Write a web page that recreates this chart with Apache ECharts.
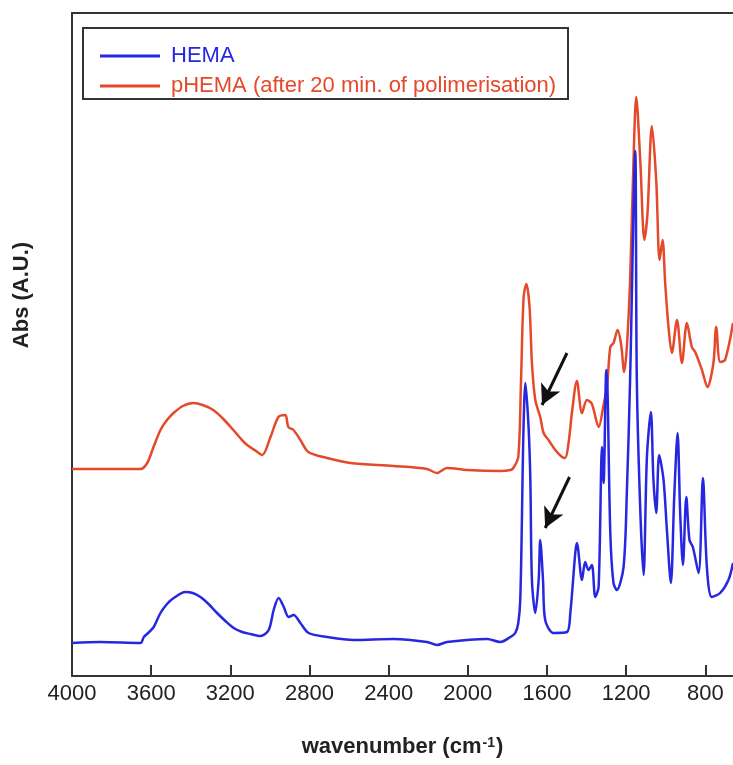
<!DOCTYPE html>
<html>
<head>
<meta charset="utf-8">
<title>HEMA / pHEMA IR spectra</title>
<script src="https://cdn.jsdelivr.net/npm/echarts@6/dist/echarts.min.js"></script>
<style>
  html, body { margin: 0; padding: 0; background: #fff; }
  #chart { width: 733px; height: 765px; }
</style>
</head>
<body>
<div id="chart"></div>
<script>
// tick labels on the wavenumber axis
const tickLabels = [4000, 3600, 3200, 2800, 2400, 2000, 1600, 1200, 800]

// HEMA spectrum (arbitrary absorbance units)
const hemaWn = [4000, 3856, 3654, 3637, 3610, 3587, 3553, 3520, 3486, 3427, 3390, 3351, 3310, 3267, 3225, 3183, 3140, 3098, 3048, 3006, 2981, 2956, 2930, 2905, 2880, 2846, 2804, 2711, 2577, 2375, 2206, 2156, 2105, 1903, 1836, 1785, 1760, 1745, 1735, 1726, 1720, 1709, 1693, 1684, 1676, 1659, 1642, 1634, 1620, 1609, 1567, 1499, 1482, 1457, 1449, 1423, 1407, 1390, 1373, 1356, 1339, 1322, 1314, 1300, 1294, 1280, 1264, 1247, 1213, 1196, 1180, 1154, 1146, 1128, 1112, 1095, 1075, 1062, 1048, 1033, 1011, 994, 974, 957, 940, 927, 913, 896, 880, 863, 834, 812, 792, 767, 725, 683, 660]
const hemaAbs = [33, 34, 33, 39, 44, 49, 63, 72, 78, 84, 83, 79, 72, 63, 55, 48, 44, 42, 40, 46, 66, 78, 69, 59, 61, 53, 43, 39, 36, 37, 34, 31, 34, 37, 34, 39, 43, 53, 76, 163, 236, 293, 249, 196, 96, 63, 96, 136, 96, 56, 43, 44, 63, 123, 133, 96, 114, 106, 111, 79, 89, 229, 193, 306, 286, 143, 93, 86, 109, 186, 296, 525, 296, 163, 101, 219, 264, 196, 163, 221, 196, 146, 93, 179, 243, 163, 111, 179, 136, 129, 103, 198, 109, 79, 83, 96, 113]

// pHEMA spectrum after 20 min of polymerisation
const phemaWn = [4000, 3856, 3654, 3620, 3590, 3553, 3520, 3487, 3440, 3386, 3340, 3286, 3235, 3185, 3150, 3115, 3070, 3039, 2997, 2957, 2922, 2907, 2881, 2846, 2806, 2711, 2593, 2376, 2206, 2156, 2105, 2004, 1836, 1785, 1770, 1745, 1731, 1718, 1704, 1688, 1676, 1659, 1634, 1617, 1592, 1558, 1524, 1508, 1491, 1474, 1449, 1423, 1398, 1373, 1339, 1314, 1296, 1280, 1264, 1243, 1225, 1210, 1196, 1180, 1164, 1149, 1128, 1108, 1092, 1070, 1048, 1031, 1016, 1003, 986, 969, 943, 918, 893, 868, 851, 817, 789, 759, 745, 725, 700, 660]
const phemaAbs = [207, 207, 207, 213, 228, 246, 256, 263, 270, 273, 271, 266, 257, 246, 238, 231, 225, 221, 239, 259, 261, 249, 246, 236, 224, 218, 213, 210, 207, 203, 208, 206, 205, 206, 208, 219, 296, 379, 392, 369, 313, 276, 259, 243, 236, 226, 219, 218, 233, 263, 295, 263, 276, 272, 249, 271, 291, 329, 333, 346, 331, 304, 330, 396, 506, 579, 513, 436, 463, 550, 496, 416, 436, 394, 349, 323, 356, 313, 353, 329, 324, 306, 289, 313, 349, 314, 316, 353]

// arrows pointing at the C=C band: [tail, tip] in [wavenumber, abs]
const arrowUpper = [[1499, 323], [1625, 271]]
const arrowLower = [[1486, 199], [1609, 148]]

const BLUE = '#2727e0'
const RED = '#e4492a'
const FONT = 'Liberation Sans, Arial, Helvetica, sans-serif'

const zip = (xs, ys) => xs.map((x, i) => [x, ys[i]])

const chart = echarts.init(document.getElementById('chart'), null, { renderer: 'canvas' })

const baseX = {
  type: 'value',
  min: 660,
  max: 4000,
  inverse: true,
  splitLine: { show: false },
  axisLine: { onZero: false, lineStyle: { color: '#333', width: 2 } },
}

chart.setOption({
  animation: false,
  backgroundColor: '#fff',
  grid: { left: 72, right: 0, top: 13, bottom: 89 },
  legend: {
    orient: 'vertical',
    left: 100,
    top: 45,
    padding: 0,
    itemGap: 8,
    itemWidth: 60,
    itemHeight: 3,
    icon: 'rect',
    textStyle: { fontFamily: FONT, fontSize: 22, padding: [0, 0, 0, 6] },
    data: [
      { name: 'HEMA', textStyle: { color: BLUE } },
      { name: 'pHEMA (after 20 min. of polimerisation)', textStyle: { color: RED } },
    ],
  },
  graphic: [
    {
      type: 'rect',
      shape: { x: 83, y: 28, width: 485, height: 71 },
      style: { fill: 'none', stroke: '#333', lineWidth: 2 },
    },
    {
      type: 'text',
      x: 22,
      y: 295,
      rotation: Math.PI / 2,
      style: {
        text: 'Abs (A.U.)',
        font: 'bold 22px ' + FONT,
        fill: '#222',
        align: 'center',
        verticalAlign: 'middle',
      },
    },
  ],
  xAxis: [
    {
      ...baseX,
      position: 'bottom',
      name: '{a|wavenumber (cm}{s|-1}{a|)}',
      nameLocation: 'middle',
      nameGap: 60,
      nameTextStyle: {
        rich: {
          a: { fontFamily: FONT, fontSize: 22, fontWeight: 'bold', color: '#222' },
          s: { fontFamily: FONT, fontSize: 14, fontWeight: 'bold', color: '#222', verticalAlign: 'top', padding: [0, 1, 8, 1] },
        },
      },
      axisTick: { inside: true, length: 11, customValues: tickLabels, lineStyle: { color: '#333', width: 2 } },
      axisLabel: {
        customValues: tickLabels,
        margin: 7,
        fontFamily: FONT,
        fontSize: 22,
        color: '#222',
        formatter: v => String(v),
      },
    },
    {
      ...baseX,
      position: 'top',
      axisTick: { show: false },
      axisLabel: { show: false },
    },
  ],
  yAxis: {
    type: 'value',
    min: 0,
    max: 663,
    axisLine: { show: true, onZero: false, lineStyle: { color: '#333', width: 2 } },
    axisTick: { show: false },
    axisLabel: { show: false },
    splitLine: { show: false },
  },
  series: [
    {
      name: 'HEMA',
      type: 'line',
      data: zip(hemaWn, hemaAbs),
      symbol: 'none',
      smooth: 0.3,
      lineStyle: { color: BLUE, width: 2.5 },
      itemStyle: { color: BLUE },
      z: 3,
      markLine: {
        silent: true,
        symbol: ['none', 'arrow'],
        symbolSize: [16, 20],
        label: { show: false },
        lineStyle: { color: '#111', width: 3, type: 'solid' },
        data: [
          [{ coord: arrowUpper[0] }, { coord: arrowUpper[1] }],
          [{ coord: arrowLower[0] }, { coord: arrowLower[1] }],
        ],
      },
    },
    {
      name: 'pHEMA (after 20 min. of polimerisation)',
      type: 'line',
      data: zip(phemaWn, phemaAbs),
      symbol: 'none',
      smooth: 0.3,
      lineStyle: { color: RED, width: 2.5 },
      itemStyle: { color: RED },
      z: 2,
    },
  ],
})
</script>
</body>
</html>
